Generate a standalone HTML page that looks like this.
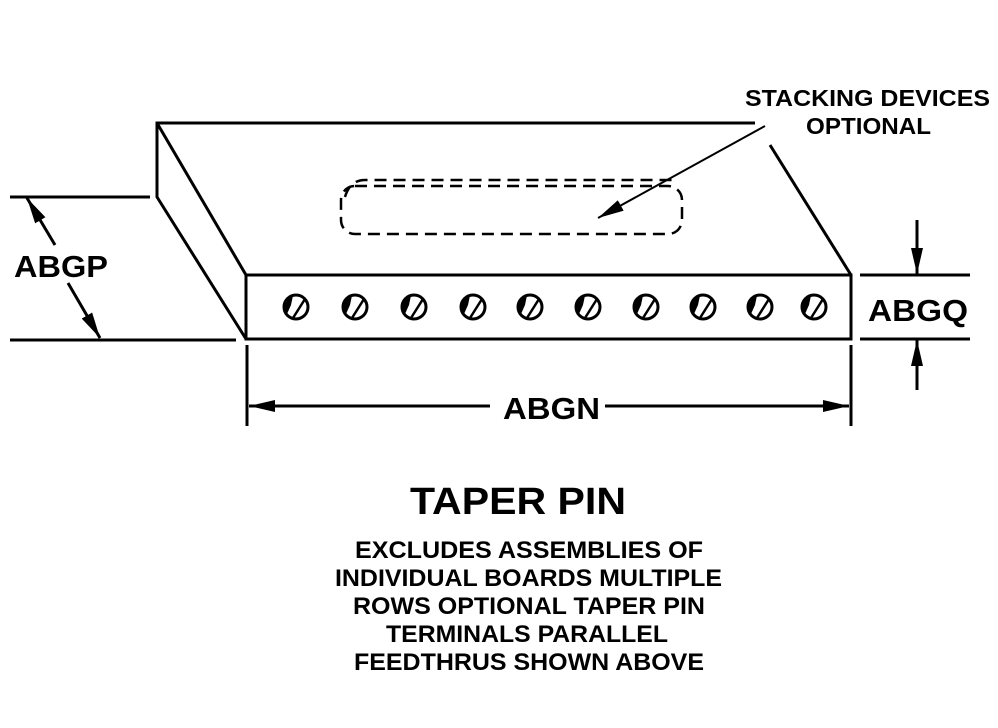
<!DOCTYPE html>
<html><head><style>
body{margin:0;background:#fff;}
svg{display:block;}
text{font-family:"Liberation Sans",Arial,sans-serif;font-weight:bold;fill:#000;}
</style></head><body>
<svg width="998" height="728" viewBox="0 0 998 728" xmlns="http://www.w3.org/2000/svg">
<defs>
<marker id="ab" markerWidth="26" markerHeight="12" refX="26" refY="6" orient="auto" markerUnits="userSpaceOnUse">
<path d="M0,0 L26,6 L0,12 z" fill="#000"/></marker>
<g id="p"><circle cx="0" cy="0" r="12" fill="none" stroke="#000" stroke-width="3"/>
<path d="M-3,-11.5 A12,12 0 0 0 -9,7 L-5,-2 Z" fill="#000"/>
<line x1="-3" y1="11" x2="9" y2="-8" stroke="#000" stroke-width="2.5"/></g>
</defs>
<g stroke="#000" stroke-width="3" fill="none">
<polyline points="755,123 157,123 157,197 246,339"/>
<line x1="157" y1="123" x2="246" y2="275"/>
<line x1="770" y1="145" x2="851" y2="275"/>
<rect x="246" y="275" width="605" height="64"/>
<line x1="10" y1="197" x2="150" y2="197"/>
<line x1="10" y1="340" x2="236" y2="340"/>
<line x1="55" y1="245" x2="27" y2="198" marker-end="url(#ab)"/>
<line x1="68" y1="283" x2="100" y2="338" marker-end="url(#ab)"/>
<line x1="860" y1="275" x2="970" y2="275"/>
<line x1="860" y1="339" x2="970" y2="339"/>
<line x1="917" y1="220" x2="917" y2="274" marker-end="url(#ab)"/>
<line x1="917" y1="390" x2="917" y2="340" marker-end="url(#ab)"/>
<line x1="247" y1="345" x2="247" y2="426"/>
<line x1="851" y1="345" x2="851" y2="426"/>
<line x1="490" y1="406" x2="249" y2="406" marker-end="url(#ab)"/>
<line x1="605" y1="406" x2="849" y2="406" marker-end="url(#ab)"/>
<rect x="341" y="186" width="341" height="48" rx="14" stroke-dasharray="12,7" stroke-width="2.5"/>
<path d="M345,197 Q350,180 365,180 L672,180" stroke-dasharray="12,7" stroke-width="2.5"/>
<line x1="765" y1="126" x2="598" y2="218" stroke-width="2" marker-end="url(#ab)"/>
</g>
<use href="#p" x="296" y="307"/><use href="#p" x="355" y="307"/><use href="#p" x="414" y="307"/><use href="#p" x="473" y="307"/><use href="#p" x="530" y="307"/><use href="#p" x="588" y="307"/><use href="#p" x="646" y="307"/><use href="#p" x="703" y="307"/><use href="#p" x="760" y="307"/><use href="#p" x="814" y="307"/>
<text x="14" y="277" font-size="31" textLength="94" lengthAdjust="spacingAndGlyphs">ABGP</text>
<text x="868" y="321" font-size="31" textLength="100" lengthAdjust="spacingAndGlyphs">ABGQ</text>
<text x="503" y="419" font-size="31" textLength="97" lengthAdjust="spacingAndGlyphs">ABGN</text>
<text x="745" y="106" font-size="23" textLength="245" lengthAdjust="spacingAndGlyphs">STACKING DEVICES</text>
<text x="806" y="134" font-size="23" textLength="125" lengthAdjust="spacingAndGlyphs">OPTIONAL</text>
<text x="410" y="514" font-size="38" textLength="216" lengthAdjust="spacingAndGlyphs">TAPER PIN</text>
<g font-size="24">
<text x="355" y="558" textLength="348" lengthAdjust="spacingAndGlyphs">EXCLUDES ASSEMBLIES OF</text>
<text x="335" y="586" textLength="387" lengthAdjust="spacingAndGlyphs">INDIVIDUAL BOARDS MULTIPLE</text>
<text x="353" y="614" textLength="352" lengthAdjust="spacingAndGlyphs">ROWS OPTIONAL TAPER PIN</text>
<text x="386" y="642" textLength="282" lengthAdjust="spacingAndGlyphs">TERMINALS PARALLEL</text>
<text x="354" y="670" textLength="350" lengthAdjust="spacingAndGlyphs">FEEDTHRUS SHOWN ABOVE</text>
</g>
</svg>
</body></html>
